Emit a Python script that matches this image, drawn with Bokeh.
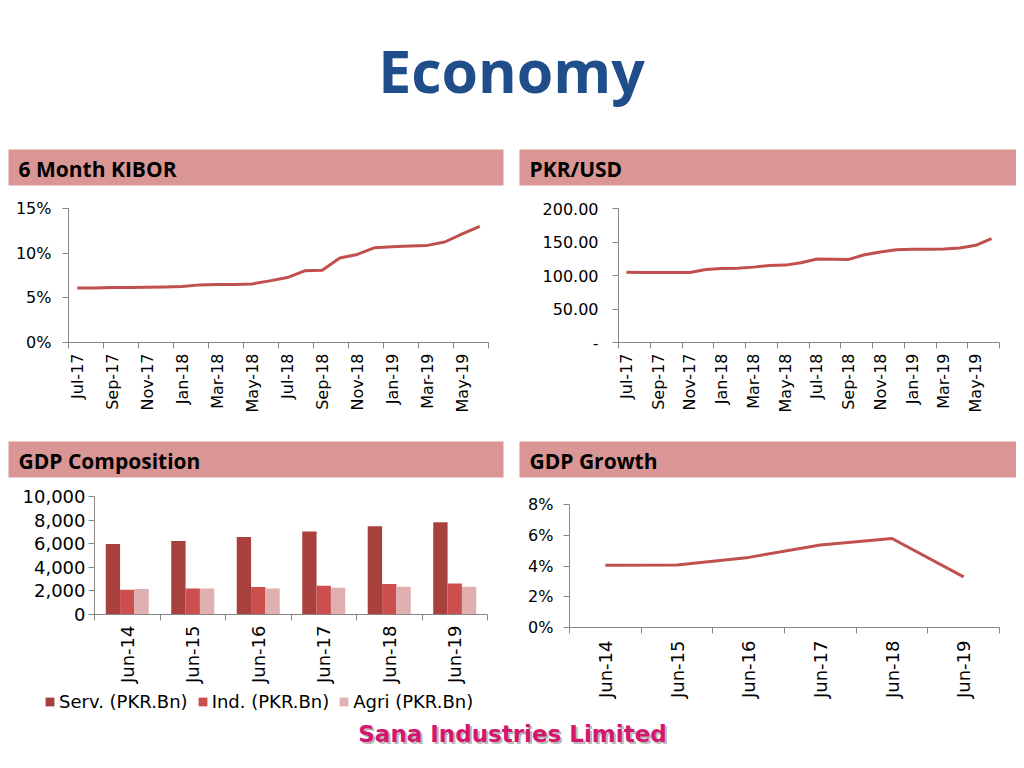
from math import pi
from bokeh.plotting import figure
from bokeh.layouts import column, row
from bokeh.models import (Range1d, LinearAxis, FixedTicker, Legend, LegendItem,
                          NumeralTickFormatter, PrintfTickFormatter)
from bokeh.embed import file_html
from bokeh.resources import INLINE
from bokeh.core.properties import value

# ---------------- data ----------------
kibor_months = ["Jul-17", "Aug-17", "Sep-17", "Oct-17", "Nov-17", "Dec-17",
                "Jan-18", "Feb-18", "Mar-18", "Apr-18", "May-18", "Jun-18",
                "Jul-18", "Aug-18", "Sep-18", "Oct-18", "Nov-18", "Dec-18",
                "Jan-19", "Feb-19", "Mar-19", "Apr-19", "May-19", "Jun-19"]
kibor_values = [6.11, 6.11, 6.15, 6.15, 6.19, 6.22, 6.26, 6.45, 6.49, 6.49,
                6.56, 6.90, 7.27, 8.02, 8.10, 9.45, 9.86, 10.61, 10.72, 10.80,
                10.87, 11.25, 12.15, 13.01]
pkr_values = [105.0, 104.5, 104.5, 104.5, 104.5, 109.0, 110.5, 111.0, 112.5,
              115.0, 115.5, 119.0, 124.5, 124.2, 124.0, 131.0, 135.0, 138.5,
              139.0, 139.0, 139.5, 141.0, 145.0, 155.0]
gdp_years = ["Jun-14", "Jun-15", "Jun-16", "Jun-17", "Jun-18", "Jun-19"]
serv = [5977, 6232, 6572, 7025, 7479, 7819]
ind = [2096, 2210, 2323, 2436, 2578, 2635]
agri = [2153, 2210, 2210, 2266, 2351, 2351]
gdp_growth = [4.05, 4.06, 4.56, 5.37, 5.79, 3.29]
series_names = ["Serv. (PKR.Bn)", "Ind. (PKR.Bn)", "Agri (PKR.Bn)"]

pct_ticks = [0, 5, 10, 15]
pkr_ticks = [0, 50, 100, 150, 200]
gdp_ticks = [0, 2000, 4000, 6000, 8000, 10000]
growth_ticks = [0, 2, 4, 6, 8]

# ---------------- styles ----------------
AX = "#878787"
LINE = "#C0504D"
HDR = "#D99694"
BAR_COLORS = ["#A8403E", "#CA4F4D", "#E0B0B0"]
TICK_FONT = "DejaVu Sans"
HEAD_FONT = "Open Sans"


def deco(w, h):
    f = figure(width=w, height=h, x_range=Range1d(0, w), y_range=Range1d(h, 0),
               toolbar_location=None, output_backend="svg", min_border=0,
               x_axis_location=None, y_axis_location=None,
               outline_line_color=None)
    f.grid.visible = False
    return f


def header(f, x0, x1, y0, y1, label):
    f.quad(left=[x0], right=[x1], top=[y0], bottom=[y1], fill_color=HDR,
           line_color=None)
    f.text(x=[x0 + 10], y=[(y0 + y1) / 2 + 1], text=[label],
           text_font=value(HEAD_FONT), text_font_style="bold",
           text_font_size="21px", text_color="#000000",
           text_baseline="middle", text_align="left")


def chart(w, h, left, right, top, bottom, xr, yr, ysize, ystand):
    p = figure(width=w, height=h, x_range=xr, y_range=yr,
               toolbar_location=None, output_backend="svg",
               x_axis_location=None, min_border_left=left,
               min_border_right=right, min_border_top=top,
               min_border_bottom=bottom, outline_line_color=None)
    p.grid.visible = False
    ya = p.yaxis[0]
    ya.axis_line_color = AX
    ya.major_tick_line_color = AX
    ya.minor_tick_line_color = None
    ya.major_tick_out = 6
    ya.major_tick_in = 0
    ya.major_label_standoff = ystand
    ya.major_label_text_font = TICK_FONT
    ya.major_label_text_font_size = ysize
    ya.major_label_text_color = "#000000"
    return p


def cat_axis(p, n, step, labels, font_size, standoff):
    bounds = [i - 0.5 for i in range(0, n + 1, step)]
    pos = list(range(0, n, step))
    ax = LinearAxis(ticker=FixedTicker(ticks=pos, minor_ticks=bounds),
                    major_label_overrides={i: labels[i] for i in pos},
                    major_label_orientation=pi / 2,
                    major_label_standoff=standoff,
                    major_label_text_font=TICK_FONT,
                    major_label_text_font_size=font_size,
                    major_label_text_color="#000000",
                    axis_line_color=AX, major_tick_line_color=None,
                    major_tick_out=6, major_tick_in=0,
                    minor_tick_line_color=AX, minor_tick_out=6,
                    minor_tick_in=0)
    p.add_layout(ax, "below")


# ---------------- top: title + headers ----------------
top = deco(1016, 186)
top.text(x=[511], y=[69], text=["Economy"], text_font=value(HEAD_FONT),
         text_font_style="bold", text_font_size="59px", text_color="#1F4E8A",
         text_align="center", text_baseline="middle")
header(top, 8, 503, 149, 185, "6 Month KIBOR")
header(top, 519, 1016, 149, 185, "PKR/USD")

# ---------------- chart 1: KIBOR ----------------
n = len(kibor_months)
idx = list(range(n))
c1 = chart(511, 246, 68, 23, 22, 90, Range1d(-0.5, n - 0.5), Range1d(0, 15),
           "16px", 11)
c1.yaxis[0].ticker = FixedTicker(ticks=pct_ticks)
c1.yaxis[0].formatter = PrintfTickFormatter(format="%d%%")
c1.line(idx, kibor_values, line_color=LINE, line_width=3, line_join="round")
cat_axis(c1, n, 2, kibor_months, "16px", 5)

# ---------------- chart 2: PKR/USD ----------------
c2 = chart(505, 246, 107, 17, 22, 90, Range1d(-0.5, n - 0.5), Range1d(0, 200),
           "16px", 14)
c2.yaxis[0].ticker = FixedTicker(ticks=pkr_ticks)
c2.yaxis[0].formatter = NumeralTickFormatter(format="0.00")
c2.yaxis[0].major_label_overrides = {0: "-"}
c2.line(idx, pkr_values, line_color=LINE, line_width=3, line_join="round")
cat_axis(c2, n, 2, kibor_months, "16px", 5)

# ---------------- mid headers ----------------
mid = deco(1016, 46)
header(mid, 8, 503, 9, 45, "GDP Composition")
header(mid, 519, 1016, 9, 45, "GDP Growth")

# ---------------- chart 3: GDP composition ----------------
m = len(gdp_years)
gidx = list(range(m))
c3 = chart(511, 208, 94, 24, 18, 72, Range1d(-0.5, m - 0.5),
           Range1d(0, 10000), "18px", 3)
c3.yaxis[0].ticker = FixedTicker(ticks=gdp_ticks)
c3.yaxis[0].formatter = NumeralTickFormatter(format="0,0")
bw = 0.219
for k, (vals, col) in enumerate(zip([serv, ind, agri], BAR_COLORS)):
    xs = [i + (k - 1) * bw for i in gidx]
    c3.vbar(x=xs, top=vals, width=bw, fill_color=col, line_color=None)
cat_axis(c3, m, 1, gdp_years, "18px", 5)

# legend strip under the GDP composition chart (hidden renderers, same data)
legfig = deco(511, 30)
leg_items = []
for k, (vals, col) in enumerate(zip([serv, ind, agri], BAR_COLORS)):
    r = legfig.vbar(x=gidx, top=vals, width=bw, fill_color=col,
                    line_color=None, visible=False)
    leg_items.append(LegendItem(label=series_names[k], renderers=[r]))
leg = Legend(items=leg_items, orientation="horizontal", location=(44, 4),
             label_text_font=TICK_FONT, label_text_font_size="18px",
             label_text_color="#000000", glyph_width=11, glyph_height=11,
             label_standoff=4, spacing=9, padding=0, margin=0,
             border_line_color=None, background_fill_alpha=0)
legfig.add_layout(leg)

# ---------------- chart 4: GDP growth ----------------
c4 = chart(505, 238, 58, 17, 26, 89, Range1d(-0.5, m - 0.5), Range1d(0, 8),
           "16px", 10)
c4.yaxis[0].ticker = FixedTicker(ticks=growth_ticks)
c4.yaxis[0].formatter = PrintfTickFormatter(format="%d%%")
c4.line(gidx, gdp_growth, line_color=LINE, line_width=3, line_join="round")
cat_axis(c4, m, 1, gdp_years, "18px", 7)

# ---------------- bottom logo ----------------
bot = deco(1016, 46)
bot.text(x=[514], y=[19], text=["Sana Industries Limited"],
         text_font=value("DejaVu Sans"), text_font_style="bold",
         text_font_size="23px", text_color="#9A9A9A", text_alpha=0.7,
         text_align="center", text_baseline="middle")
bot.text(x=[512], y=[17], text=["Sana Industries Limited"],
         text_font=value("DejaVu Sans"), text_font_style="bold",
         text_font_size="23px", text_color="#D4176E",
         text_align="center", text_baseline="middle")

left_bottom = column(c3, row(legfig))
layout = column(top, row(c1, c2), mid, row(left_bottom, c4), bot)
open("out.html", "w").write(file_html(layout, INLINE))
